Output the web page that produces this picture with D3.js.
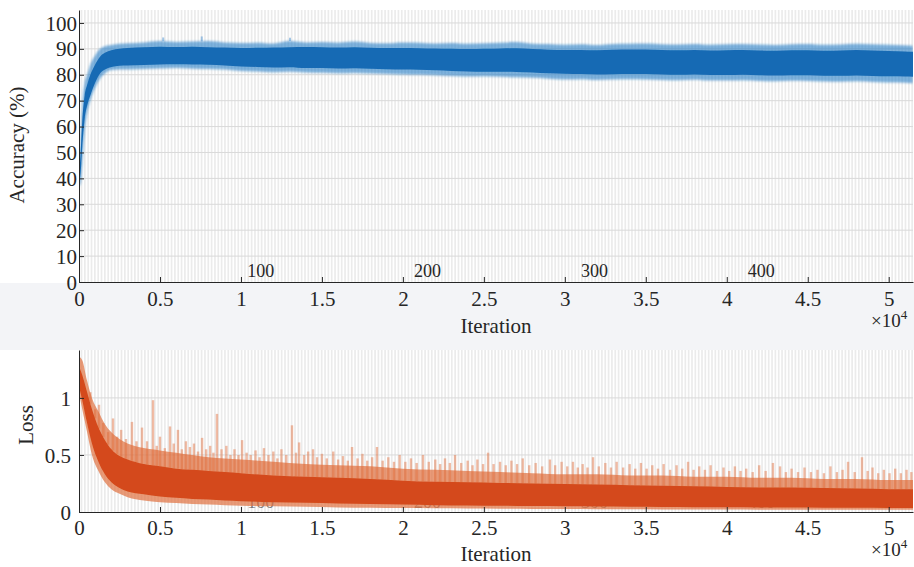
<!DOCTYPE html>
<html>
<head>
<meta charset="utf-8">
<script src="https://cdn.jsdelivr.net/npm/d3@7"></script>
<style>
  body { margin: 0; background: #fff; }
  svg { display: block; }
  text { font-family: "Liberation Serif", "DejaVu Serif", serif; fill: #262626; }
</style>
</head>
<body>
<svg id="chart" width="914" height="567"></svg>
<script>
// training progress
const accIter = [0, 100, 200, 350, 500, 700, 1000, 1300, 1600, 2000, 2500, 3000, 4000, 5000, 6000, 7000, 8000, 9000, 10000, 11000, 12000, 13000, 14000, 15000, 16000, 17000, 18000, 19000, 20000, 21000, 22000, 23000, 24000, 25000, 26000, 27000, 28000, 29000, 30000, 31000, 32000, 33000, 34000, 35000, 36000, 37000, 38000, 39000, 40000, 41000, 42000, 43000, 44000, 45000, 46000, 47000, 48000, 49000, 50000, 51000, 51500];
const accMax = [42, 55, 68, 77, 80, 84, 87.5, 90, 91, 91.5, 92, 92.2, 92.5, 93, 92.6, 92.8, 93, 92.5, 92.3, 92.4, 92.1, 93, 92.5, 92.6, 92.4, 92.8, 92.3, 92.2, 92.5, 92.4, 92.1, 92.3, 92.0, 92.2, 92.4, 92.6, 92.0, 91.9, 91.6, 91.8, 91.5, 91.9, 92.0, 92.1, 91.8, 91.7, 91.9, 91.6, 91.8, 91.9, 91.7, 91.5, 91.8, 91.9, 91.6, 91.7, 92.0, 91.8, 91.6, 91.4, 91.2];
const accHi = [40, 50, 62, 72, 76, 80, 84, 87, 88.5, 89.5, 90, 90.3, 90.6, 90.8, 90.7, 90.8, 90.6, 90.5, 90.3, 90.4, 90.5, 90.6, 90.7, 90.6, 90.5, 90.6, 90.4, 90.3, 90.3, 90.2, 90.1, 90.0, 89.9, 90.0, 90.1, 90.2, 89.9, 89.7, 89.6, 89.6, 89.5, 89.7, 89.8, 89.8, 89.6, 89.5, 89.6, 89.4, 89.5, 89.6, 89.4, 89.3, 89.5, 89.5, 89.3, 89.4, 89.6, 89.4, 89.2, 89.0, 88.9];
const accLo = [38, 42, 52, 63, 68, 72, 77, 80.5, 82, 83, 83.5, 83.6, 83.8, 84, 84.1, 84, 83.9, 83.6, 83.2, 83, 82.8, 82.9, 82.6, 82.6, 82.4, 82.5, 82.3, 82.1, 82, 81.9, 81.7, 81.5, 81.3, 81.2, 81.2, 81.1, 80.9, 80.6, 80.4, 80.3, 80.1, 80.2, 80.3, 80.3, 80.1, 80.0, 80.1, 79.9, 79.9, 80.0, 79.8, 79.7, 79.8, 79.8, 79.6, 79.6, 79.7, 79.5, 79.4, 79.3, 79.2];
const accMin = [37, 38, 45, 58, 65, 70, 75, 78.5, 80.5, 81.8, 82, 82, 82.2, 82.4, 82.6, 82.3, 82.2, 82, 81.5, 81.3, 81.0, 81.2, 80.9, 80.8, 80.6, 80.7, 80.5, 80.3, 80.1, 80.0, 79.8, 79.5, 79.3, 79.4, 79.2, 79.0, 78.8, 78.5, 78.2, 78.3, 78.0, 78.2, 78.3, 78.2, 78.0, 77.9, 78.1, 77.8, 77.8, 77.9, 77.6, 77.5, 77.7, 77.6, 77.4, 77.3, 77.5, 77.2, 77.0, 76.9, 76.7];
const accSpikes = [[5200, 94.4], [7580, 94.8], [13030, 94.3]];

const lossIter = [0, 200, 500, 800, 1200, 1600, 2000, 2500, 3000, 4000, 5000, 6000, 7000, 8000, 9000, 10000, 12000, 14000, 16000, 18000, 20000, 22000, 24000, 26000, 28000, 30000, 32000, 34000, 36000, 38000, 40000, 42000, 44000, 46000, 48000, 50000, 51500];
const lossMax = [1.36, 1.33, 1.15, 1.0, 0.88, 0.77, 0.7, 0.64, 0.6, 0.56, 0.54, 0.52, 0.5, 0.48, 0.47, 0.46, 0.44, 0.42, 0.41, 0.4, 0.38, 0.37, 0.36, 0.35, 0.34, 0.33, 0.33, 0.32, 0.32, 0.31, 0.31, 0.3, 0.3, 0.29, 0.29, 0.28, 0.28];
const lossHi = [1.28, 1.2, 1.05, 0.9, 0.74, 0.63, 0.55, 0.49, 0.46, 0.42, 0.4, 0.38, 0.37, 0.36, 0.35, 0.34, 0.32, 0.31, 0.3, 0.29, 0.275, 0.265, 0.26, 0.255, 0.25, 0.245, 0.24, 0.235, 0.23, 0.225, 0.22, 0.215, 0.215, 0.21, 0.205, 0.2, 0.2];
const lossLo = [1.1, 0.98, 0.78, 0.6, 0.44, 0.33, 0.26, 0.21, 0.18, 0.155, 0.135, 0.125, 0.115, 0.11, 0.1, 0.095, 0.085, 0.08, 0.075, 0.07, 0.065, 0.06, 0.058, 0.055, 0.052, 0.05, 0.048, 0.046, 0.044, 0.042, 0.041, 0.04, 0.039, 0.038, 0.037, 0.036, 0.036];
const lossMin = [1.05, 0.9, 0.7, 0.5, 0.36, 0.26, 0.2, 0.16, 0.13, 0.1, 0.085, 0.078, 0.07, 0.065, 0.06, 0.055, 0.05, 0.045, 0.04, 0.037, 0.034, 0.032, 0.03, 0.028, 0.027, 0.026, 0.025, 0.024, 0.023, 0.022, 0.021, 0.02, 0.02, 0.02, 0.02, 0.02, 0.02];
const lossSpikes = [[700, 1.05], [1000, 0.9], [1235, 0.94], [1500, 0.78], [1800, 0.7], [2100, 0.82], [2350, 0.66], [2600, 0.72], [2900, 0.64], [3270, 0.79], [3550, 0.62], [3890, 0.74], [4200, 0.62], [4570, 0.98], [4800, 0.58], [5000, 0.66], [5300, 0.56], [5620, 0.75], [5850, 0.6], [6110, 0.72], [6350, 0.55], [6600, 0.62], [6850, 0.57], [7100, 0.6], [7350, 0.53], [7600, 0.65], [7850, 0.55], [8100, 0.58], [8300, 0.52], [8520, 0.86], [8800, 0.55], [9100, 0.58], [9350, 0.5], [9600, 0.55], [9850, 0.5], [10070, 0.63], [10350, 0.52], [10600, 0.5], [10900, 0.54], [11150, 0.48], [11420, 0.56], [11700, 0.5], [12000, 0.53], [12250, 0.47], [12500, 0.55], [12800, 0.5], [13150, 0.76], [13400, 0.52], [13590, 0.61], [13900, 0.5], [14150, 0.53], [14450, 0.55], [14700, 0.48], [15000, 0.51], [15300, 0.47], [15700, 0.53], [16000, 0.46], [16300, 0.49], [16600, 0.45], [16860, 0.57], [17200, 0.47], [17500, 0.51], [17800, 0.45], [18100, 0.48], [18400, 0.57], [18750, 0.45], [19100, 0.48], [19450, 0.44], [19800, 0.5], [20150, 0.44], [20500, 0.47], [20850, 0.43], [21240, 0.5], [21600, 0.44], [22000, 0.46], [22300, 0.42], [22600, 0.47], [22900, 0.43], [23220, 0.5], [23600, 0.43], [24000, 0.45], [24300, 0.41], [24600, 0.46], [24950, 0.42], [25260, 0.52], [25600, 0.42], [26000, 0.44], [26350, 0.41], [26700, 0.45], [27050, 0.42], [27400, 0.47], [27800, 0.41], [28200, 0.43], [28600, 0.4], [29080, 0.46], [29400, 0.41], [29800, 0.44], [30150, 0.4], [30500, 0.44], [30800, 0.39], [31100, 0.42], [31400, 0.39], [31740, 0.48], [32100, 0.4], [32500, 0.43], [32850, 0.39], [33200, 0.44], [33600, 0.39], [34000, 0.42], [34350, 0.38], [34700, 0.43], [35050, 0.38], [35400, 0.41], [35750, 0.38], [36100, 0.42], [36500, 0.37], [36900, 0.41], [37250, 0.38], [37610, 0.44], [37950, 0.37], [38300, 0.4], [38650, 0.37], [39000, 0.41], [39400, 0.36], [39800, 0.39], [40150, 0.36], [40500, 0.4], [40850, 0.36], [41200, 0.38], [41600, 0.35], [42000, 0.41], [42400, 0.36], [42850, 0.43], [43290, 0.4], [43650, 0.35], [44000, 0.38], [44400, 0.35], [44800, 0.39], [45200, 0.35], [45600, 0.37], [46000, 0.34], [46400, 0.4], [46800, 0.35], [47150, 0.37], [47490, 0.44], [47900, 0.35], [48350, 0.48], [48700, 0.36], [49000, 0.39], [49350, 0.34], [49700, 0.37], [50050, 0.34], [50400, 0.38], [50750, 0.34], [51100, 0.37], [51400, 0.35]];

const epochLabels = [100, 200, 300, 400];
const itersPerEpoch = 103;
const numEpochs = 500;

const accTicks = d3.range(0, 101, 10);
const lossTicks = [0, 0.5, 1];
const iterTicks = d3.range(0, 50001, 5000);

const svg = d3.select("#chart");
const x = d3.scaleLinear().domain([0, 51500]).range([79, 913]);
const yAcc = d3.scaleLinear().domain([0, 105]).range([282, 10]);
const yLoss = d3.scaleLinear().domain([0, 1.42]).range([512, 350]);

const defs = svg.append("defs");
defs.append("filter").attr("id", "soft").attr("x", "-5%").attr("y", "-20%").attr("width", "110%").attr("height", "140%")
    .append("feGaussianBlur").attr("stdDeviation", 1.1);
defs.append("filter").attr("id", "soft2").attr("x", "-5%").attr("y", "-20%").attr("width", "110%").attr("height", "140%")
    .append("feGaussianBlur").attr("stdDeviation", 0.5);

// grey strip between the two panels
svg.append("rect").attr("x", 0).attr("y", 283).attr("width", 914).attr("height", 67).attr("fill", "#f3f4f7");

function panel(y, id, gridVals) {
    const [y0, y1] = y.range();
    const g = svg.append("g");
    defs.append("clipPath").attr("id", id).append("rect")
        .attr("x", x.range()[0]).attr("y", y1)
        .attr("width", x.range()[1] - x.range()[0]).attr("height", y0 - y1);
    g.append("rect").attr("x", x.range()[0]).attr("y", y1)
        .attr("width", x.range()[1] - x.range()[0]).attr("height", y0 - y1).attr("fill", "#fff");
    // alternate epoch shading
    g.append("g").attr("clip-path", `url(#${id})`)
        .selectAll("rect").data(d3.range(1, numEpochs, 2)).join("rect")
        .attr("x", e => x(e * itersPerEpoch))
        .attr("width", x(itersPerEpoch) - x(0))
        .attr("y", y1).attr("height", y0 - y1)
        .attr("fill", "#ebebeb");
    g.append("g").selectAll("line").data(gridVals).join("line")
        .attr("x1", x.range()[0]).attr("x2", x.range()[1])
        .attr("y1", d => y(d)).attr("y2", d => y(d))
        .attr("stroke", "#d9d9d9").attr("stroke-width", 1);
    return g;
}

function axes(g, y, ticks, labelX, fmt, tickBase) {
    const ax = g.append("g").attr("transform", `translate(0,${y.range()[0]})`)
        .call(d3.axisBottom(x).tickValues(iterTicks).tickFormat(d => d / 1e4).tickSize(-5).tickSizeOuter(0));
    ax.select(".domain").attr("stroke", "#262626");
    ax.selectAll(".tick line").attr("stroke", "#262626");
    ax.selectAll("text").attr("y", tickBase).attr("dy", 0)
        .attr("font-size", 21).attr("fill", "#262626");
    const ay = g.append("g").attr("transform", `translate(${x.range()[0]},0)`)
        .call(d3.axisLeft(y).tickValues(ticks).tickFormat(fmt).tickSize(-5).tickSizeOuter(0));
    ay.select(".domain").attr("stroke", "#262626");
    ay.selectAll(".tick line").attr("stroke", "#262626");
    ay.selectAll("text").attr("x", labelX).attr("dy", "0.34em")
        .attr("font-size", 21).attr("fill", "#262626");
}

function epochText(g, base, op) {
    g.append("g").selectAll("text").data(epochLabels).join("text")
        .attr("x", d => x(d * itersPerEpoch) + 1.5)
        .attr("y", base)
        .attr("font-size", 18)
        .attr("fill-opacity", op)
        .text(d => d);
}

function band(g, id, iters, lo, hi, y, fill, opacity, filter) {
    const area = d3.area()
        .x(d => x(d))
        .y0((d, i) => y(lo[i]))
        .y1((d, i) => y(hi[i]))
        .curve(d3.curveMonotoneX);
    g.append("g").attr("clip-path", `url(#${id})`)
        .append("path")
        .datum(iters).attr("d", area)
        .attr("fill", fill).attr("fill-opacity", opacity)
        .attr("filter", filter ? `url(#${filter})` : null);
}

function spikes(g, id, data, base, y, color, opacity, width) {
    // each spike rises from the solid core of the curve
    const baseAt = d3.scaleLinear().domain(base[0]).range(base[1]);
    g.append("g").attr("clip-path", `url(#${id})`)
        .selectAll("line").data(data).join("line")
        .attr("x1", d => x(d[0])).attr("x2", d => x(d[0]))
        .attr("y1", d => y(baseAt(d[0]))).attr("y2", d => y(d[1]))
        .attr("stroke", color).attr("stroke-opacity", opacity).attr("stroke-width", width);
}

// accuracy panel
const gA = panel(yAcc, "clipAcc", accTicks.slice(1));
epochText(gA, 277, 1);
spikes(gA, "clipAcc", accSpikes, [accIter, accMax], yAcc, "#4a90d0", 0.5, 2);
band(gA, "clipAcc", accIter, accMin, accMax, yAcc, "#2a7fc6", 0.6, "soft");
band(gA, "clipAcc", accIter, accLo, accHi, yAcc, "#156ab4", 1, "soft2");
axes(gA, yAcc, accTicks, -2, d => d, 24);

// loss panel (epoch numbers sit under the curve here)
const gL = panel(yLoss, "clipLoss", [0.5, 1]);
epochText(gL, 508, 0.6);
band(gL, "clipLoss", lossIter, lossMin, lossMax, yLoss, "#e0703f", 0.7, "soft2");
spikes(gL, "clipLoss", lossSpikes, [lossIter, lossHi], yLoss, "#e06a38", 0.45, 2.4);
band(gL, "clipLoss", lossIter, lossLo, lossHi, yLoss, "#d44a1a", 1, "soft2");
axes(gL, yLoss, lossTicks, -8, d => d, 23);

// axis titles
svg.append("text").attr("transform", "translate(24,145) rotate(-90)")
    .attr("text-anchor", "middle").attr("font-size", 21).text("Accuracy (%)");
svg.append("text").attr("transform", "translate(33,425) rotate(-90)")
    .attr("text-anchor", "middle").attr("font-size", 21).text("Loss");
[333, 561].forEach(b => {
    svg.append("text").attr("x", 496).attr("y", b)
        .attr("text-anchor", "middle").attr("font-size", 21).text("Iteration");
});
[327, 556].forEach(b => {
    const t = svg.append("text").attr("x", 871).attr("y", b).attr("font-size", 19);
    t.append("tspan").text("×10");
    t.append("tspan").attr("dy", -8).attr("font-size", 13).text("4");
});
</script>
</body>
</html>
